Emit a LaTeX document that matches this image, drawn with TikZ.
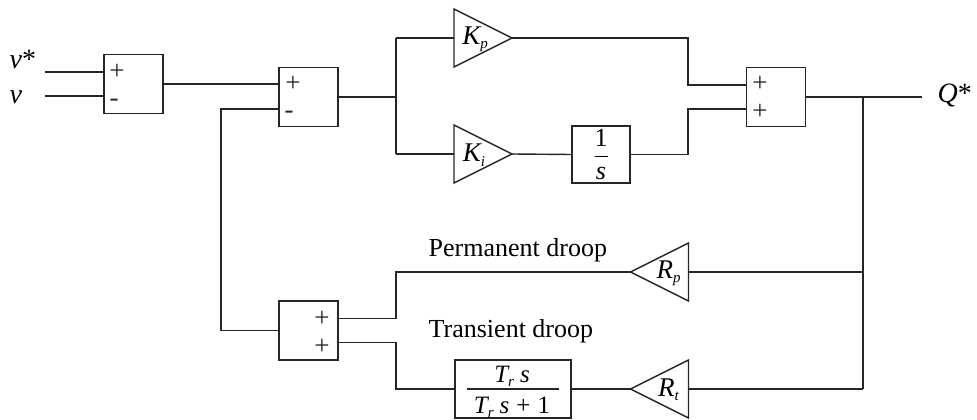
\documentclass[tikz,border=0pt]{standalone}
\usepackage{fontspec}
\setmainfont{Liberation Serif}
\newcommand\sbs[1]{\raisebox{-0.35ex}{\fontsize{15}{16}\selectfont\itshape #1}}
\begin{document}
\begin{tikzpicture}[x=1pt,y=-1pt, line width=1.4pt, draw=black!85,
  blk/.style={draw, fill=white, minimum width=59pt, minimum height=59pt, inner sep=0pt, outer sep=0pt},
  tri/.style={minimum width=58pt, minimum height=58pt, inner sep=0pt, outer sep=0pt},
  sgn/.style={font=\fontsize{27}{28}\selectfont, inner sep=0pt, text=black!85},
  lbl/.style={font=\fontsize{27}{29}\selectfont, inner sep=0pt},
  frc/.style={font=\fontsize{26}{28}\selectfont},
  ftx/.style={font=\fontsize{25}{27}\selectfont, inner sep=0pt, anchor=base},
  var/.style={font=\fontsize{28}{30}\selectfont, inner sep=0pt},
  big/.style={font=\fontsize{26}{30}\selectfont, inner sep=0pt}]
\useasboundingbox (0,0) rectangle (977,420);

% summing blocks
\node[blk] (b1) at (133.5,84) {};
\node[blk] (b2) at (308.5,97) {};
\node[blk] (b3) at (776,97) {};
\node[blk] (b4) at (308.5,330.5) {};
% transfer blocks
\node[blk, minimum width=58pt, minimum height=57pt, frc] (int) at (601,154.5)
  {$\displaystyle\frac{\mbox{1}}{\mbox{\itshape s}}$};
\node[blk, minimum width=116pt, minimum height=58pt] (tr) at (513,389) {};
\node[ftx] (trn) at (512,382) {\itshape T\sbs{r}\hspace{6pt}s};
\node[ftx] (trd) at (512,413) {\itshape T\sbs{r}\hspace{6pt}s\hspace{7pt}\upshape+\hspace{7pt}1};
\draw[line width=1.1pt] ([xshift=-46pt]tr.center) -- ([xshift=46pt]tr.center);

% gain triangles
\node[tri] (kp) at (483,38) {};
\node[tri] (ki) at (483,154) {};
\node[tri] (rp) at (659.5,272) {};
\node[tri] (rt) at (659.5,389) {};
\draw (kp.north west) -- (kp.east) -- (kp.south west) -- cycle;
\draw (ki.north west) -- (ki.east) -- (ki.south west) -- cycle;
\draw (rp.north east) -- (rp.west) -- (rp.south east) -- cycle;
\draw (rt.north east) -- (rt.west) -- (rt.south east) -- cycle;
\node[lbl] (kpl) at ([xshift=-8pt,yshift=-1pt]kp.center) {\itshape K\sbs{p}};
\node[lbl] (kil) at ([xshift=-9pt,yshift=-1pt]ki.center) {\itshape K\sbs{i}};
\node[lbl] (rpl) at ([xshift=9pt,yshift=-1pt]rp.center) {\itshape R\sbs{p}};
\node[lbl] (rtl) at ([xshift=9pt,yshift=-1pt]rt.center) {\itshape R\sbs{t}};

% signs
\node[sgn] (s1a) at (117,72) {+};
\node[sgn] (s1b) at (114,103) {-};
\node[sgn] (s2a) at (293,84) {+};
\node[sgn] (s2b) at (289,115) {-};
\node[sgn] (s3a) at (760,84) {+};
\node[sgn] (s3b) at (760,112) {+};
\node[sgn] (s4a) at (322,318.5) {+};
\node[sgn] (s4b) at (322,346.5) {+};

% inputs
\coordinate (vs) at (45,72);
\coordinate (vv) at (45,96);
\node[var, anchor=base west] (vsl) at (9,68) {\itshape v\upshape*};
\node[var, anchor=base west] (vl) at (9,103) {\itshape v};
\draw (vs) -- (vs -| b1.west);
\draw (vv) -- (vv -| b1.west);

% forward path
\draw (b1.east) -- (b1.east -| b2.west);
\coordinate (br1) at (396,97);
\draw (b2.east) -- (br1);
\draw (br1 |- kp.west) -- (br1 |- ki.west);
\draw (br1 |- kp.west) -- (kp.west);
\draw (br1 |- ki.west) -- (ki.west);
\draw (kp.east) -- (688,38) -- (688,85) -- ([yshift=12pt]b3.west);
\draw (ki.east) -- (int.west);
\draw (int.east) -- (688,154.5) -- (688,109) -- ([yshift=-12pt]b3.west);
\coordinate (q) at (922,97);
\node[var, anchor=base west] (ql) at (937,102) {\itshape Q\upshape*};
\draw (b3.east) -- (q);

% feedback
\coordinate (br2) at (863,97);
\draw (br2) -- (br2 |- rt.east);
\draw (br2 |- rp.east) -- (rp.east);
\draw (br2 |- rt.east) -- (rt.east);
\draw (rp.west) -- (396,272) -- (396,318.5) -- ([yshift=12pt]b4.east);
\draw (rt.west) -- (tr.east);
\draw (tr.west) -- (396,389) -- (396,342.5) -- ([yshift=-12pt]b4.east);
\draw (b4.west) -- (221,330.5) -- (221,109) -- ([yshift=-12pt]b2.west);

% labels
\node[big, anchor=base west] (pd) at (428,256) {Permanent droop};
\node[big, anchor=base west] (td) at (428,337) {Transient droop};
\end{tikzpicture}
\end{document}
